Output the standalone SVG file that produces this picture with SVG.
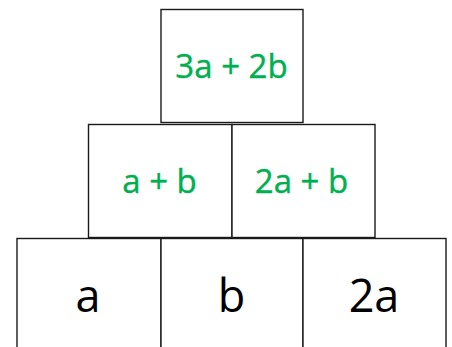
<svg xmlns="http://www.w3.org/2000/svg" width="452" height="347" viewBox="0 0 452 347">
<style>
.box{fill:#fff;stroke:#1a1a1a;stroke-width:1.4}
.g{font-family:"Open Sans","Noto Sans",sans-serif;font-size:33px;fill:#00b050;stroke:#00b050;stroke-width:0.4;text-anchor:middle}
.k{font-family:"Open Sans","Noto Sans",sans-serif;font-size:45px;fill:#000;text-anchor:middle}
</style>
<rect width="452" height="347" fill="#fff"/>
<g id="top"><rect class="box" x="161" y="9.5" width="142" height="113"/><text class="g" x="231.5" y="78">3a + 2b</text></g>
<g id="mid1"><rect class="box" x="88.5" y="124.5" width="143.5" height="113"/><text class="g" x="159.5" y="193">a + b</text></g>
<g id="mid2"><rect class="box" x="232" y="124.5" width="143" height="113"/><text class="g" x="301.5" y="193">2a + b</text></g>
<g id="bot1"><rect class="box" x="17" y="238.5" width="144" height="120"/><text class="k" x="88" y="311.5">a</text></g>
<g id="bot2"><rect class="box" x="161" y="238.5" width="142" height="120"/><text class="k" x="231.5" y="311.5">b</text></g>
<g id="bot3"><rect class="box" x="303" y="238.5" width="143" height="120"/><text class="k" x="374" y="311.5">2a</text></g>
<g id="connectors"></g>
</svg>
